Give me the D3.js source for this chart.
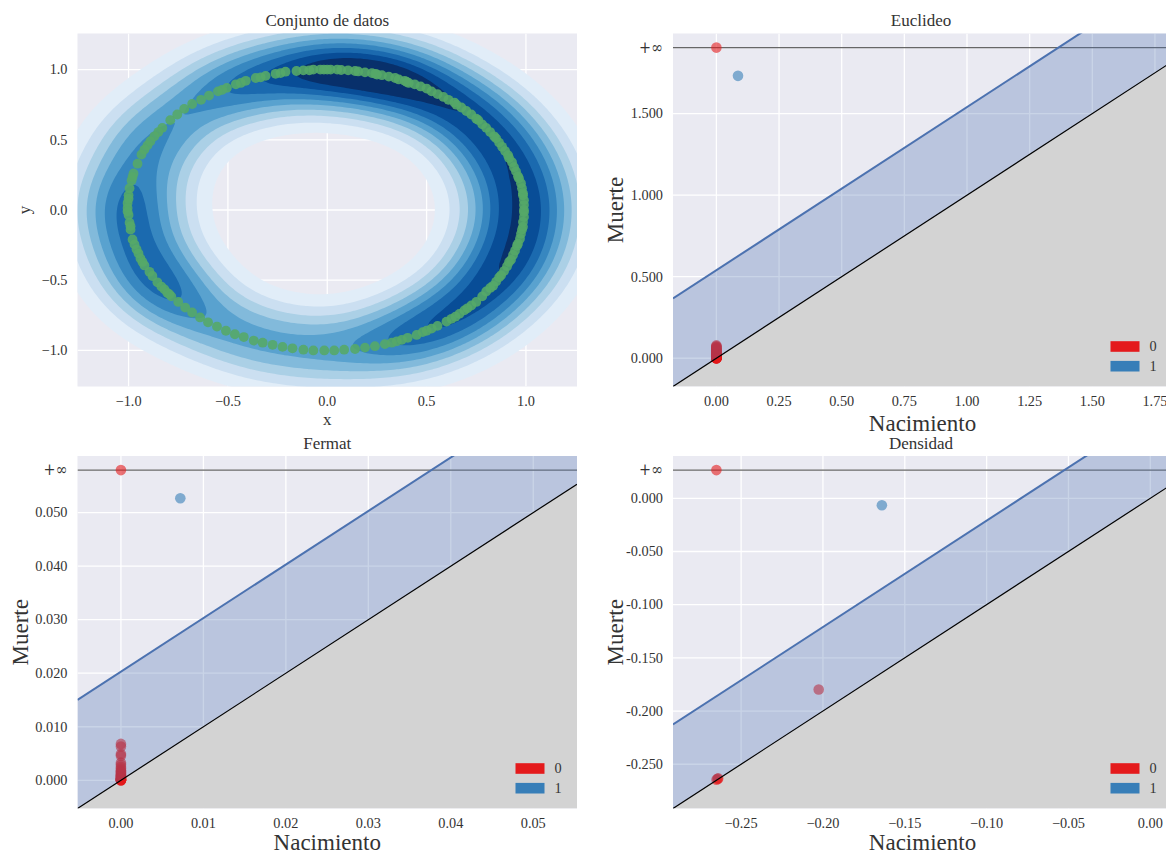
<!DOCTYPE html>
<html>
<head>
<meta charset="utf-8">
<script src="https://cdn.jsdelivr.net/npm/d3@7"></script>
<style>
  body { margin: 0; background: #ffffff; }
  svg text { font-family: "Liberation Serif", "DejaVu Serif", serif; fill: #333333; }
</style>
</head>
<body>
<svg id="fig" width="1166" height="854"></svg>
<script>
// ---- Sample on the ring (x, y) ----
const ringX = [
  0.800,0.820,0.835,0.850,0.865,0.875,0.890,0.905,0.915,0.925,
  0.935,0.945,0.955,0.960,0.970,0.975,0.980,0.985,0.985,0.990,
  0.990,0.990,0.990,0.990,0.985,0.985,0.980,0.975,0.965,0.960,
  0.950,0.940,0.930,0.915,0.910,0.895,0.880,0.865,0.850,0.840,
  0.820,0.800,0.780,0.760,0.750,0.725,0.700,0.675,0.650,0.640,
  0.610,0.585,0.555,0.525,0.500,
  0.470,0.440,0.410,0.390,0.360,0.310,0.275,0.250,0.225,0.190,
  0.140,0.105,0.050,0.017,0.000,-0.035,-0.070,-0.090,-0.120,-0.155,
  -0.210,-0.235,-0.260,-0.310,-0.335,-0.360,-0.410,-0.435,-0.460,-0.505,
  -0.530,-0.550,-0.595,-0.635,-0.680,-0.720,-0.755,
  -0.790,-0.830,-0.850,-0.870,-0.905,-0.920,-0.935,-0.955,-0.975,-0.985,
  -0.995,-1.000,-1.000,-1.005,-1.005,-1.005,-1.000,-0.995,-0.990,
  -0.980,-0.970,-0.960,-0.940,-0.930,-0.920,
  -0.895,-0.880,-0.855,-0.835,-0.820,-0.805,-0.795,-0.785,-0.750,-0.715,
  -0.680,-0.640,-0.600,-0.555,-0.510,-0.465,-0.420,-0.370,-0.325,-0.275,
  -0.225,-0.175,-0.120,-0.070,-0.015,0.035,0.085,0.140,0.190,0.240,
  0.290,0.325,0.350,0.375,0.405,0.450,0.480,0.500,0.525,0.555,
  0.600,0.625,0.645,0.665,0.690,0.705,0.725,0.750,0.780,
  0.400,0.342,0.242,0.156,0.070,-0.017,
  -0.890,-0.980,-0.990,-0.950
];
const ringY = [
  -0.580,-0.555,-0.540,-0.510,-0.480,-0.465,-0.435,-0.400,-0.370,-0.355,
  -0.320,-0.290,-0.255,-0.240,-0.205,-0.170,-0.140,-0.120,-0.085,-0.050,
  -0.015,0.000,0.035,0.070,0.105,0.120,0.155,0.190,0.225,0.240,
  0.275,0.305,0.340,0.370,0.390,0.420,0.450,0.480,0.510,0.525,
  0.555,0.585,0.610,0.640,0.650,0.680,0.705,0.730,0.750,0.765,
  0.785,0.805,0.825,0.845,0.865,
  0.880,0.895,0.905,0.920,0.930,0.950,0.960,0.965,0.975,0.980,
  0.990,0.995,1.000,1.000,1.000,1.000,1.000,0.995,0.995,0.990,
  0.985,0.975,0.970,0.955,0.945,0.940,0.920,0.905,0.895,0.870,
  0.855,0.845,0.815,0.785,0.755,0.720,0.680,
  0.640,0.585,0.555,0.525,0.460,0.430,0.395,0.330,0.260,0.210,
  0.155,0.105,0.080,0.050,0.015,-0.010,-0.035,-0.090,-0.140,
  -0.210,-0.245,-0.280,-0.345,-0.370,-0.395,
  -0.440,-0.470,-0.515,-0.545,-0.565,-0.590,-0.600,-0.615,-0.655,-0.695,
  -0.730,-0.765,-0.800,-0.830,-0.860,-0.885,-0.905,-0.930,-0.945,-0.960,
  -0.975,-0.985,-0.995,-1.000,-1.000,-1.000,-0.995,-0.990,-0.980,-0.970,
  -0.955,-0.945,-0.935,-0.925,-0.910,-0.890,-0.870,-0.860,-0.845,-0.825,
  -0.795,-0.775,-0.760,-0.740,-0.715,-0.700,-0.680,-0.655,-0.615,
  0.912,0.940,0.970,0.987,0.997,1.000,
  0.490,0.235,-0.115,-0.310
];
const ringLim = [-1.257, 1.257];
const ringTicks = [-1.0, -0.5, 0.0, 0.5, 1.0];

// ---- Persistence diagrams: [birth, death] per homology dimension ----
const euclidH0 = [
  [0, Infinity], [0, 0.079], [0, 0.074], [0, 0.070], [0, 0.066], [0, 0.061], [0, 0.058],
  [0, 0.055], [0, 0.051], [0, 0.048], [0, 0.045], [0, 0.042], [0, 0.040], [0, 0.037],
  [0, 0.035], [0, 0.033], [0, 0.031], [0, 0.029], [0, 0.027], [0, 0.025], [0, 0.023],
  [0, 0.021], [0, 0.019], [0, 0.018], [0, 0.016], [0, 0.015], [0, 0.013], [0, 0.012],
  [0, 0.010], [0, 0.009], [0, 0.008], [0, 0.007], [0, 0.006], [0, 0.005], [0, 0.004],
  [0, 0.003], [0, 0.003], [0, 0.002], [0, 0.002], [0, 0.001], [0, 0.001],
  [0, 0.000], [0, 0.000], [0, 0.000], [0, 0.000]
];
const euclidH1 = [[0.0862, 1.7314]];
const euclidBand = 0.540;
const euclidXTicks = [0, 0.25, 0.5, 0.75, 1.0, 1.25, 1.5, 1.75];
const euclidYTicks = [0, 0.5, 1.0, 1.5];

const fermatH0 = [
  [0, Infinity], [0, 0.0068], [0, 0.0063], [0, 0.0049], [0, 0.0046], [0, 0.0033],
  [0, 0.0029], [0, 0.0025], [0, 0.0022], [0, 0.0019], [0, 0.0017], [0, 0.0015],
  [0, 0.0013], [0, 0.0011], [0, 0.0010], [0, 0.0009], [0, 0.0008], [0, 0.0007],
  [0, 0.0006], [0, 0.0005], [0, 0.0004], [0, 0.0004], [0, 0.0003], [0, 0.0002],
  [0, 0.0002], [0, 0.0001], [0, 0.0001], [0, 0], [0, 0], [0, 0], [0, 0]
];
const fermatH1 = [[0.0072, 0.05267]];
const fermatBand = 0.0203;
const fermatXTicks = [0, 0.01, 0.02, 0.03, 0.04, 0.05];
const fermatYTicks = [0, 0.01, 0.02, 0.03, 0.04, 0.05];

const densH0 = [
  [-0.2651, Infinity], [-0.2026, -0.1797], [-0.2650, -0.2645],
  [-0.2644, -0.2637], [-0.2640, -0.2633]
];
const densH1 = [[-0.1640, -0.0066]];
const densBand = 0.079;
const densXTicks = [-0.25, -0.20, -0.15, -0.10, -0.05, 0.00];
const densYTicks = [-0.25, -0.20, -0.15, -0.10, -0.05, 0.00];

const legendLabels = ["0", "1"];
const titles = ["Conjunto de datos", "Euclideo", "Fermat", "Densidad"];

// ---- Styling ----
const BG = "#eaeaf2";
const GRID = "#ffffff";
const DIM_COLORS = ["#e41a1c", "#377eb8"];
const POINT_GREEN = "#55a868";
const BAND_BLUE = "#4c72b0";
const KDE_BW = 0.2;
const KDE_LEVELS = 9;
const blues = d3.scaleLinear()
  .domain(d3.range(9).map(i => i / 8))
  .range(["#f7fbff","#deebf7","#c6dbef","#9ecae1","#6baed6","#4292c6","#2171b5","#08519c","#08306b"])
  .interpolate(d3.interpolateRgb);

const boxes = [
  { x: 77.5, y: 33.5, w: 499.5, h: 353 },
  { x: 673,  y: 33.5, w: 499,   h: 353 },
  { x: 77.5, y: 456,  w: 499.5, h: 352.5 },
  { x: 673,  y: 456,  w: 499,   h: 352.5 }
];

const svg = d3.select("#fig");
const defs = svg.append("defs");
boxes.forEach((b, i) => {
  defs.append("clipPath").attr("id", "clip" + i)
    .append("rect").attr("x", b.x).attr("y", b.y).attr("width", b.w).attr("height", b.h);
});

const TICK_FS = 14.3;

function frame(g, b, idx) {
  g.append("rect").attr("x", b.x).attr("y", b.y).attr("width", b.w).attr("height", b.h).attr("fill", BG);
  return g.append("g").attr("clip-path", `url(#clip${idx})`);
}

function gridLines(plot, b, x, y, xt, yt) {
  plot.append("g").selectAll("line").data(xt).join("line")
    .attr("x1", d => x(d)).attr("x2", d => x(d)).attr("y1", b.y).attr("y2", b.y + b.h)
    .attr("stroke", GRID).attr("stroke-width", 1.3);
  plot.append("g").selectAll("line").data(yt).join("line")
    .attr("y1", d => y(d)).attr("y2", d => y(d)).attr("x1", b.x).attr("x2", b.x + b.w)
    .attr("stroke", GRID).attr("stroke-width", 1.3);
}

function xTickText(g, b, x, ticks, fmt) {
  g.append("g").selectAll("text").data(ticks).join("text")
    .attr("x", d => x(d)).attr("y", b.y + b.h + 19.7)
    .attr("text-anchor", "middle").attr("font-size", TICK_FS).text(fmt);
}
function yTickText(g, b, y, ticks, labels) {
  g.append("g").selectAll("text").data(ticks).join("text")
    .attr("x", b.x - 10).attr("y", d => y(d) + 4.8)
    .attr("text-anchor", "end").attr("font-size", TICK_FS)
    .text((d, i) => labels[i]);
}
function infLabel(g, b, yv) {
  const t = g.append("text").attr("x", b.x - 10).attr("y", yv + 5)
    .attr("text-anchor", "end").style("font-family", "'DejaVu Serif', serif")
    .attr("font-size", 16.5).attr("textLength", 24).attr("lengthAdjust", "spacingAndGlyphs");
  t.append("tspan").text("+");
  t.append("tspan").text("\u221e");
}
function title(g, b, t) {
  g.append("text").attr("x", b.x + b.w / 2 - (b.x > 600 ? 1.5 : 0)).attr("y", b.y - 7.3)
    .attr("text-anchor", "middle").attr("font-size", 17).text(t);
}

// ---- Panel 1: sample with its kernel density estimate ----
function ringPanel(b) {
  const g = svg.append("g");
  const x = d3.scaleLinear().domain(ringLim).range([b.x, b.x + b.w]);
  const y = d3.scaleLinear().domain(ringLim).range([b.y + b.h, b.y]);
  const plot = frame(g, b, 0);
  gridLines(plot, b, x, y, ringTicks, ringTicks);

  // Gaussian KDE evaluated on a regular grid
  const n = 241, lo = -2.0, hi = 2.0, cell = (hi - lo) / (n - 1);
  const vals = new Float64Array(n * n);
  const kx = new Float64Array(n), ky = new Float64Array(n);
  for (let p = 0; p < ringX.length; p++) {
    for (let i = 0; i < n; i++) { const d = (lo + i * cell - ringX[p]) / KDE_BW; kx[i] = Math.exp(-0.5 * d * d); }
    for (let j = 0; j < n; j++) { const d = (lo + j * cell - ringY[p]) / KDE_BW; ky[j] = Math.exp(-0.5 * d * d); }
    for (let j = 0; j < n; j++) {
      const kj = ky[j];
      if (kj < 1e-9) continue;
      const row = j * n;
      for (let i = 0; i < n; i++) vals[row + i] += kx[i] * kj;
    }
  }
  const norm = 1 / (ringX.length * 2 * Math.PI * KDE_BW * KDE_BW);
  for (let k = 0; k < vals.length; k++) vals[k] *= norm;
  const zmax = d3.max(vals);
  const levels = d3.range(1, KDE_LEVELS + 1).map(i => i * zmax / (KDE_LEVELS + 1.5));
  const polys = d3.contours().size([n, n]).thresholds(levels)(Array.from(vals));
  const proj = d3.geoTransform({
    point: function (u, v) { this.stream.point(x(lo + (u - 0.5) * cell), y(lo + (v - 0.5) * cell)); }
  });
  const path = d3.geoPath(proj);
  plot.append("g").selectAll("path").data(polys).join("path")
    .attr("d", path).attr("fill-rule", "evenodd")
    .attr("fill", (d, i) => blues((i + 1) / levels.length));

  plot.append("g").selectAll("circle").data(d3.range(ringX.length)).join("circle")
    .attr("cx", i => x(ringX[i])).attr("cy", i => y(ringY[i])).attr("r", 4.9)
    .attr("fill", POINT_GREEN).attr("fill-opacity", 0.9);

  const fmt = d3.format(".1f");
  xTickText(g, b, x, ringTicks, fmt);
  yTickText(g, b, y, ringTicks, ringTicks.map(fmt));
  title(g, b, titles[0]);
  g.append("text").attr("x", b.x + b.w / 2).attr("y", b.y + b.h + 38.5)
    .attr("text-anchor", "middle").attr("font-size", 17).text("x");
  g.append("text").attr("transform", `translate(${b.x - 47.5},${b.y + b.h / 2}) rotate(-90)`)
    .attr("text-anchor", "middle").attr("font-size", 17).text("y");
}

// ---- Persistence diagram panels ----
function diagramPanel(b, idx, h0, h1, band, xTicks, yTicks, xFmt, name, labelGap) {
  const g = svg.append("g");
  const pts = h0.map(d => ({ b: d[0], d: d[1], dim: 0 }))
    .concat(h1.map(d => ({ b: d[0], d: d[1], dim: 1 })));
  const minBirth = d3.min(pts, p => p.b);
  const maxDeath = Math.max(0, d3.max(pts, p => isFinite(p.d) ? p.d : -Infinity), d3.max(pts, p => p.b));
  const delta = 0.1 * (maxDeath - minBirth);
  const inf = maxDeath + delta, axisEnd = maxDeath + delta / 2, axisStart = minBirth - delta;

  const x = d3.scaleLinear().domain([axisStart, axisEnd]).range([b.x, b.x + b.w]);
  const y = d3.scaleLinear().domain([axisStart, inf + delta / 2]).range([b.y + b.h, b.y]);

  const plot = frame(g, b, idx);
  gridLines(plot, b, x, y, xTicks, yTicks.concat([inf]));

  // region below the diagonal
  plot.append("path")
    .attr("d", d3.line()([[x(axisStart), y(axisStart)], [x(axisEnd), y(axisStart)], [x(axisEnd), y(axisEnd)]]) + "Z")
    .attr("fill", "#d3d3d3");

  // line of points that never die
  plot.append("line")
    .attr("x1", x(axisStart)).attr("x2", x(axisEnd)).attr("y1", y(inf)).attr("y2", y(inf))
    .attr("stroke", "#000").attr("stroke-opacity", 0.6).attr("stroke-width", 1.3);

  plot.append("g").selectAll("circle").data(pts.slice().reverse()).join("circle")
    .attr("cx", p => x(p.b)).attr("cy", p => y(isFinite(p.d) ? p.d : inf)).attr("r", 5.3)
    .attr("fill", p => DIM_COLORS[p.dim]).attr("fill-opacity", 0.6);

  // confidence band above the diagonal
  const span = [axisStart, inf];
  plot.append("path")
    .attr("d", d3.area().x(v => x(v)).y0(v => y(v)).y1(v => y(v + band))(span))
    .attr("fill", BAND_BLUE).attr("fill-opacity", 0.3);
  plot.append("path")
    .attr("d", d3.line().x(v => x(v)).y(v => y(v + band))(span))
    .attr("fill", "none").attr("stroke", BAND_BLUE).attr("stroke-width", 2);

  plot.append("line")
    .attr("x1", x(axisStart)).attr("y1", y(axisStart)).attr("x2", x(axisEnd)).attr("y2", y(axisEnd))
    .attr("stroke", "#000").attr("stroke-width", 1.2);

  // legend
  const lg = g.append("g");
  legendLabels.forEach((t, i) => {
    const top = b.y + b.h - 45.3 + i * 19.7;
    lg.append("rect").attr("x", b.x + b.w - 61.5).attr("y", top).attr("width", 29).attr("height", 10.6)
      .attr("fill", DIM_COLORS[i]);
    lg.append("text").attr("x", b.x + b.w - 22.5).attr("y", top + 5.3 + 4.8)
      .attr("font-size", TICK_FS).text(t);
  });

  xTickText(g, b, x, xTicks, xFmt);
  yTickText(g, b, y, yTicks, yTicks.map(v => v.toFixed(3)));
  infLabel(g, b, y(inf));
  title(g, b, name);
  g.append("text").attr("x", b.x + b.w / 2).attr("y", b.y + b.h + labelGap)
    .attr("text-anchor", "middle").attr("font-size", 23).text("Nacimiento");
  g.append("text").attr("transform", `translate(${b.x - 50},${b.y + b.h / 2}) rotate(-90)`)
    .attr("text-anchor", "middle").attr("font-size", 23).text("Muerte");
}

ringPanel(boxes[0]);
diagramPanel(boxes[1], 1, euclidH0, euclidH1, euclidBand, euclidXTicks, euclidYTicks, d3.format(".2f"), titles[1], 44);
diagramPanel(boxes[2], 2, fermatH0, fermatH1, fermatBand, fermatXTicks, fermatYTicks, d3.format(".2f"), titles[2], 41.5);
diagramPanel(boxes[3], 3, densH0, densH1, densBand, densXTicks, densYTicks, d3.format(".2f"), titles[3], 41.5);
</script>
</body>
</html>
